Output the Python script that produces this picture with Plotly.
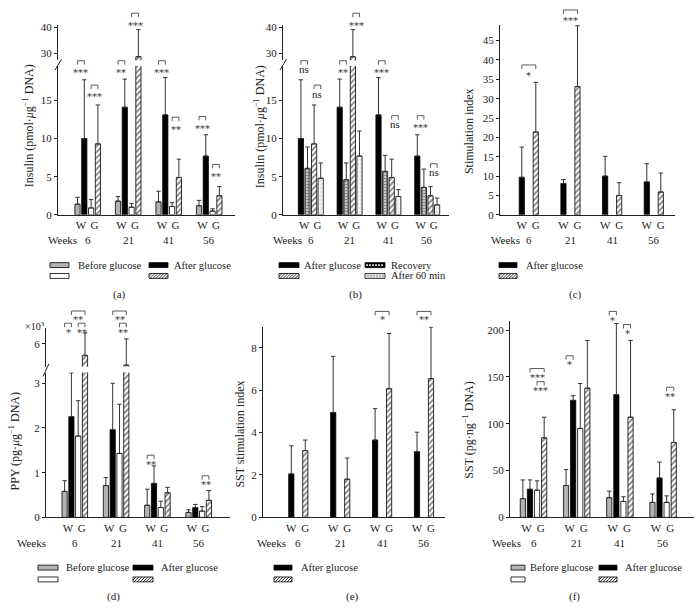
import plotly.graph_objects as go

W, H = 696, 615
SERIF = "Liberation Serif"
INK = "#222222"

# ---------------- data ----------------
weeks = ["6", "21", "41", "56"]
strains = ["W", "G"]

# (a)/(b) insulin, pmol per ug DNA
ins_before_W = [1.4, 1.8, 1.7, 1.2]
ins_before_W_err = [0.9, 0.6, 1.4, 0.7]
ins_after_W = [10.0, 14.1, 13.1, 7.7]
ins_after_W_err = [7.7, 3.7, 4.9, 2.8]
ins_before_G = [0.9, 1.0, 1.1, 0.5]
ins_before_G_err = [1.1, 0.5, 0.5, 0.3]
ins_after_G = [9.3, 28.8, 4.9, 2.5]
ins_after_G_err = [5.1, 10.4, 2.4, 1.2]
ins_recovery_W = [6.1, 4.6, 5.7, 3.6]
ins_recovery_W_err = [2.8, 2.2, 2.1, 2.4]
ins_60min_G = [4.8, 7.7, 2.4, 1.3]
ins_60min_G_err = [2.0, 3.3, 0.9, 0.9]

# (c) stimulation index
si_W = [9.7, 8.1, 10.0, 8.5]
si_W_err = [7.8, 1.0, 5.1, 4.7]
si_G = [21.4, 33.1, 5.0, 5.9]
si_G_err = [12.8, 15.7, 3.3, 4.9]

# (d) PPY (x10^3 pg per ug DNA)
ppy_before_W = [0.58, 0.71, 0.27, 0.11]
ppy_before_W_err = [0.24, 0.18, 0.36, 0.06]
ppy_after_W = [2.25, 1.96, 0.76, 0.22]
ppy_after_W_err = [0.98, 1.04, 0.39, 0.07]
ppy_before_G = [1.82, 1.43, 0.22, 0.14]
ppy_before_G_err = [0.79, 1.10, 0.14, 0.10]
ppy_after_G = [4.75, 3.7, 0.55, 0.38]
ppy_after_G_err = [2.38, 2.8, 0.12, 0.22]

# (e) SST stimulation index
sst_si_W = [2.05, 4.95, 3.65, 3.1]
sst_si_W_err = [1.33, 2.65, 1.48, 0.92]
sst_si_G = [3.15, 1.8, 6.07, 6.55]
sst_si_G_err = [0.5, 1.0, 2.61, 2.43]

# (f) SST pg per ng DNA
sst_before_W = [20, 34, 21, 16]
sst_before_W_err = [20, 17, 7, 9]
sst_after_W = [30, 125, 131, 42]
sst_after_W_err = [10, 5, 76, 17]
sst_before_G = [29, 95, 17, 16]
sst_before_G_err = [10, 48, 5, 7]
sst_after_G = [85, 138, 107, 80]
sst_after_G_err = [22, 51, 82, 35]

legend_before = "Before glucose"
legend_after = "After glucose"
legend_recovery = "Recovery"
legend_60 = "After 60 min"

# ---------------- helpers ----------------
def fx(px):
    return px / W


def fy(py):
    return 1 - py / H


STY = {
    "gray": dict(color="#b3b3b3", line=dict(color="black", width=0.8)),
    "black": dict(color="black", line=dict(color="black", width=0.8)),
    "white": dict(color="white", line=dict(color="black", width=0.8)),
    "hatch": dict(color="white", line=dict(color="black", width=0.8),
                  pattern=dict(shape="/", fgcolor="black", bgcolor="white",
                               size=4, solidity=0.45)),
    "check": dict(color="black", line=dict(color="black", width=0.8),
                  pattern=dict(shape="+", fgcolor="black", bgcolor="white",
                               size=3, solidity=0.7)),
    "grid": dict(color="white", line=dict(color="black", width=0.8),
                 pattern=dict(shape="+", fgcolor="#777777", bgcolor="white",
                              size=4, solidity=0.2)),
}


def slots4(p):
    return [-1.5 * p, -0.5 * p, 0.5 * p, 1.5 * p]


PANELS = [
    dict(xa="x", ylo="y", yup="y7", ax_px=58, right_px=235, c0=87.7, sp=40.5,
         slot_px=slots4(6.8), lab_px=6.8, bw=5.2,
         lo=dict(bottom=215, top=64, rng=[0, 19.5], ticks=[0, 5, 10, 15]),
         up=dict(bottom=58, top=22, rng=[27.5, 41.1], ticks=[30, 40]),
         series=[(ins_before_W, ins_before_W_err, "gray", 0),
                 (ins_after_W, ins_after_W_err, "black", 1),
                 (ins_before_G, ins_before_G_err, "white", 2),
                 (ins_after_G, ins_after_G_err, "hatch", 3)],
         sig=[(0, 0, 1, "lo", 20.2, 3), (0, 2, 3, "lo", 17.0, 3),
              (1, 0, 1, "lo", 20.2, 2), (1, 2, 3, "up", 45.5, 3),
              (2, 0, 1, "lo", 20.2, 3), (2, 2, 3, "lo", 12.8, 2),
              (3, 0, 1, "lo", 12.9, 3), (3, 2, 3, "lo", 6.6, 2)],
         sig_dy=9,
         ytitle="Insulin (pmol·<i>μ</i>g<sup>−1</sup> DNA)", yt_x=28, yt_y=125,
         weeks_x=62, weeks_y=241,
         legend=[("gray", 50, 69, 266, legend_before, 76),
                 ("black", 149, 168, 266, legend_after, 172),
                 ("white", 50, 69, 277, None, None),
                 ("hatch", 149, 168, 277, None, None)],
         cap="(a)", cap_x=119, cap_y=296,
         brk=((55, 68), (61.5, 57))),
    dict(xa="x2", ylo="y2", yup="y8", ax_px=283, right_px=449, c0=310.8, sp=38.8,
         slot_px=slots4(6.6), lab_px=6.6, bw=5.2,
         lo=dict(bottom=215, top=64, rng=[0, 19.5], ticks=[0, 5, 10, 15]),
         up=dict(bottom=58, top=22, rng=[27.5, 41.1], ticks=[30, 40]),
         series=[(ins_after_W, ins_after_W_err, "black", 0),
                 (ins_recovery_W, ins_recovery_W_err, "check", 1),
                 (ins_after_G, ins_after_G_err, "hatch", 2),
                 (ins_60min_G, ins_60min_G_err, "grid", 3)],
         sig=[(0, 0, 1, "lo", 20.2, "ns"), (0, 2, 3, "lo", 17.0, "ns"),
              (1, 0, 1, "lo", 20.2, 2), (1, 2, 3, "up", 45.5, 3),
              (2, 0, 1, "lo", 20.2, 3), (2, 2, 3, "lo", 13.0, "ns"),
              (3, 0, 1, "lo", 13.0, 3), (3, 2, 3, "lo", 6.7, "ns")],
         sig_dy=9,
         ytitle="Insulin (pmol·<i>μ</i>g<sup>−1</sup> DNA)", yt_x=259, yt_y=126,
         weeks_x=287, weeks_y=241,
         legend=[("black", 279, 299, 266, legend_after, 302),
                 ("check", 365, 385, 266, legend_recovery, 389),
                 ("hatch", 279, 299, 277, None, None),
                 ("grid", 365, 385, 277, legend_60, 389)],
         cap="(b)", cap_x=355, cap_y=296,
         brk=((280, 68), (286.5, 57))),
    dict(xa="x3", ylo="y3", yup=None, ax_px=500, right_px=675, c0=528.8, sp=41.67,
         slot_px=[-7, 7], lab_px=7, bw=5.2,
         lo=dict(bottom=215, top=22, rng=[0, 49.1], ticks=list(range(0, 50, 5))),
         up=None,
         series=[(si_W, si_W_err, "black", 0), (si_G, si_G_err, "hatch", 1)],
         sig=[(0, 0, 1, "lo", 38.7, 1), (1, 0, 1, "lo", 52.9, 3)],
         sig_dy=8,
         ytitle="Stimulation index", yt_x=469, yt_y=130,
         weeks_x=505, weeks_y=241,
         legend=[("black", 499, 517, 266, legend_after, 524),
                 ("hatch", 499, 517, 277, None, None)],
         cap="(c)", cap_x=575, cap_y=296, brk=None),
    dict(xa="x4", ylo="y4", yup="y9", ax_px=46, right_px=230, c0=74.8, sp=41.3,
         slot_px=slots4(6.8), lab_px=6.8, bw=5.2,
         lo=dict(bottom=522, top=375, rng=[0, 3.24], ticks=[0, 1, 2, 3]),
         up=dict(bottom=369, top=330, rng=[3.55, 7.65], ticks=[6]),
         series=[(ppy_before_W, ppy_before_W_err, "gray", 0),
                 (ppy_after_W, ppy_after_W_err, "black", 1),
                 (ppy_before_G, ppy_before_G_err, "white", 2),
                 (ppy_after_G, ppy_after_G_err, "hatch", 3)],
         sig=[(0, 0, 1, "up", 8.18, 1), (0, 1, 3, "up", 9.48, 2),
              (0, 2, 3, "up", 8.18, 2), (1, 1, 3, "up", 9.48, 2),
              (1, 2, 3, "up", 8.18, 2), (2, 0, 1, "lo", 1.39, 2),
              (3, 2, 3, "lo", 0.93, 2)],
         sig_dy=6,
         ytitle="PPY (pg·<i>μ</i>g<sup>−1</sup> DNA)", yt_x=14, yt_y=445,
         weeks_x=31, weeks_y=548,
         legend=[("gray", 38, 58, 573, legend_before, 64),
                 ("black", 133, 153, 573, legend_after, 159),
                 ("white", 38, 58, 585, None, None),
                 ("hatch", 133, 153, 585, None, None)],
         cap="(d)", cap_x=113, cap_y=602,
         brk=((43, 379), (49, 366))),
    dict(xa="x5", ylo="y5", yup=None, ax_px=263, right_px=445, c0=298.3, sp=41.9,
         slot_px=[-7, 7], lab_px=7, bw=5.2,
         lo=dict(bottom=522, top=328.5, rng=[0, 9.0], ticks=[0, 2, 4, 6, 8]),
         up=None,
         series=[(sst_si_W, sst_si_W_err, "black", 0),
                 (sst_si_G, sst_si_G_err, "hatch", 1)],
         sig=[(2, 0, 1, "lo", 9.72, 1), (3, 0, 1, "lo", 9.72, 2)],
         sig_dy=5,
         ytitle="SST stimulation index", yt_x=240, yt_y=438,
         weeks_x=271, weeks_y=548,
         legend=[("black", 274, 292, 573, legend_after, 299),
                 ("hatch", 274, 292, 585, None, None)],
         cap="(e)", cap_x=352, cap_y=602, brk=None),
    dict(xa="x6", ylo="y6", yup=None, ax_px=510, right_px=694, c0=533.5, sp=43.2,
         slot_px=slots4(7.1), lab_px=7.1, bw=5.2,
         lo=dict(bottom=522, top=322.5, rng=[0, 210], ticks=[0, 50, 100, 150, 200]),
         up=None,
         series=[(sst_before_W, sst_before_W_err, "gray", 0),
                 (sst_after_W, sst_after_W_err, "black", 1),
                 (sst_before_G, sst_before_G_err, "white", 2),
                 (sst_after_G, sst_after_G_err, "hatch", 3)],
         sig=[(0, 1, 3, "lo", 159, 3), (0, 2, 3, "lo", 145, 3),
              (1, 0, 1, "lo", 172.6, 1), (2, 0, 1, "lo", 220, 1),
              (2, 2, 3, "lo", 206, 1), (3, 2, 3, "lo", 139, 2)],
         sig_dy=6,
         ytitle="SST (pg·ng<sup>−1</sup> DNA)", yt_x=469, yt_y=434,
         weeks_x=506, weeks_y=548,
         legend=[("gray", 511, 525, 573, legend_before, 528),
                 ("black", 599, 617, 573, legend_after, 623),
                 ("white", 511, 525, 585, None, None),
                 ("hatch", 599, 617, 585, None, None)],
         cap="(f)", cap_x=574, cap_y=602, brk=None),
]


def akey(name):
    letter = name[0]
    num = name[1:]
    return ("xaxis" if letter == "x" else "yaxis") + num


fig = go.Figure()
shapes = []
annotations = []
layout_axes = {}

TICKFONT = dict(family=SERIF, size=11, color=INK)
LEGFONT = dict(family=SERIF, size=10.5, color=INK)
STARFONT = dict(family="DejaVu Serif", size=10, color="#333333")


def y_to_px(ax, v):
    ppu = (ax["bottom"] - ax["top"]) / (ax["rng"][1] - ax["rng"][0])
    return ax["bottom"] - (v - ax["rng"][0]) * ppu


def swatch(style, x0, x1, yc, h=5.0):
    ytop, ybot = yc - h / 2, yc + h / 2
    fill = {"gray": "#b3b3b3", "black": "black", "white": "white",
            "hatch": "white", "check": "black", "grid": "white"}[style]
    shapes.append(dict(type="rect", xref="paper", yref="paper",
                       x0=fx(x0), x1=fx(x1), y0=fy(ybot), y1=fy(ytop),
                       fillcolor=fill, line=dict(color="black", width=0.8)))
    if style == "hatch":
        segs = []
        x = x0 - h
        while x < x1:
            ax_, ay, bx, by = x, ybot, x + h, ytop
            if ax_ < x0:
                ay = ybot - (x0 - ax_)
                ax_ = x0
            if bx > x1:
                by = ytop + (bx - x1)
                bx = x1
            if bx > ax_:
                segs.append(f"M{fx(ax_):.5f},{fy(ay):.5f}L{fx(bx):.5f},{fy(by):.5f}")
            x += 3
        shapes.append(dict(type="path", xref="paper", yref="paper", path="".join(segs),
                           line=dict(color="black", width=0.8)))
    elif style == "check":
        x = x0 + 2
        while x < x1 - 1:
            shapes.append(dict(type="rect", xref="paper", yref="paper",
                               x0=fx(x - 0.8), x1=fx(x + 0.8), y0=fy(yc + 0.8), y1=fy(yc - 0.8),
                               fillcolor="white", line=dict(width=0)))
            x += 3
    elif style == "grid":
        segs = []
        x = x0 + 3
        while x < x1 - 0.5:
            segs.append(f"M{fx(x):.5f},{fy(ybot):.5f}L{fx(x):.5f},{fy(ytop):.5f}")
            x += 3
        segs.append(f"M{fx(x0):.5f},{fy(yc):.5f}L{fx(x1):.5f},{fy(yc):.5f}")
        shapes.append(dict(type="path", xref="paper", yref="paper", path="".join(segs),
                           line=dict(color="#777777", width=0.6)))


for P in PANELS:
    sp = P["sp"]
    c0 = P["c0"]
    left = (P["ax_px"] - c0) / sp
    right = 3 + (P["right_px"] - c0 - 3 * sp) / sp
    tickvals = []
    for g in range(len(weeks)):
        tickvals += [g - P["lab_px"] / sp, g + P["lab_px"] / sp]
    layout_axes[akey(P["xa"])] = dict(
        domain=[fx(P["ax_px"]), fx(P["right_px"])], range=[left, right],
        anchor=P["ylo"], showline=True, linecolor=INK, linewidth=1,
        ticks="", tickvals=tickvals, ticktext=strains * len(weeks),
        tickfont=TICKFONT, showgrid=False, zeroline=False, fixedrange=True)
    lo = P["lo"]
    layout_axes[akey(P["ylo"])] = dict(
        domain=[fy(lo["bottom"]), fy(lo["top"])], range=lo["rng"], anchor=P["xa"],
        showline=True, linecolor=INK, linewidth=1, ticks="outside", ticklen=3,
        tickcolor=INK, tickvals=lo["ticks"], tickfont=TICKFONT,
        showgrid=False, zeroline=False, fixedrange=True)
    yaxes = [P["ylo"]]
    if P["up"]:
        up = P["up"]
        layout_axes[akey(P["yup"])] = dict(
            domain=[fy(up["bottom"]), fy(up["top"])], range=up["rng"], anchor=P["xa"],
            showline=True, linecolor=INK, linewidth=1, ticks="outside", ticklen=3,
            tickcolor=INK, tickvals=up["ticks"], tickfont=TICKFONT,
            showgrid=False, zeroline=False, fixedrange=True)
        yaxes.append(P["yup"])

    for vals, errs, style, slot in P["series"]:
        xs = [g + P["slot_px"][slot] / sp for g in range(len(vals))]
        for ya in yaxes:
            fig.add_trace(go.Bar(
                x=xs, y=vals, width=[P["bw"] / sp] * len(vals),
                xaxis=P["xa"], yaxis=ya, marker=STY[style],
                error_y=dict(type="data", array=errs, arrayminus=[0] * len(errs),
                             symmetric=False, color="#333333", thickness=1, width=2.2),
                showlegend=False, hoverinfo="skip"))

    # significance brackets
    for g, sa, sb, which, val, lab in P["sig"]:
        ax = P["lo"] if which == "lo" else P["up"]
        ypx = y_to_px(ax, val)
        cx = c0 + g * sp
        xa_ = cx + P["slot_px"][sa]
        xb_ = cx + P["slot_px"][sb]
        t = 4
        path = (f"M{fx(xa_):.5f},{fy(ypx + t):.5f}L{fx(xa_):.5f},{fy(ypx):.5f}"
                f"L{fx(xb_):.5f},{fy(ypx):.5f}L{fx(xb_):.5f},{fy(ypx + t):.5f}")
        shapes.append(dict(type="path", xref="paper", yref="paper", path=path,
                           line=dict(color="#333333", width=0.8)))
        if lab == "ns":
            text = "ns"
            ty = ypx + P["sig_dy"] - 0.5
            font = dict(family=SERIF, size=11, color="#222222")
        else:
            text = "*" * lab
            ty = ypx + P["sig_dy"] + 3
            font = STARFONT
        annotations.append(dict(x=fx((xa_ + xb_) / 2), y=fy(ty), xref="paper", yref="paper",
                                text=text, showarrow=False, xanchor="center", yanchor="middle",
                                font=font))

    # axis break marks
    if P["brk"]:
        (x1, y1), (x2, y2) = P["brk"]
        shapes.append(dict(type="line", xref="paper", yref="paper",
                           x0=fx(x1), y0=fy(y1), x1=fx(x2), y1=fy(y2),
                           line=dict(color=INK, width=1)))

    # y title
    annotations.append(dict(x=fx(P["yt_x"]), y=fy(P["yt_y"]), xref="paper", yref="paper",
                            text=P["ytitle"], textangle=-90, showarrow=False,
                            xanchor="center", yanchor="middle",
                            font=dict(family=SERIF, size=12, color=INK)))
    # weeks row
    annotations.append(dict(x=fx(P["weeks_x"]), y=fy(P["weeks_y"]), xref="paper", yref="paper",
                            text="Weeks", showarrow=False, xanchor="center", yanchor="middle",
                            font=dict(family=SERIF, size=11, color=INK)))
    for g, wk in enumerate(weeks):
        annotations.append(dict(x=g, y=fy(P["weeks_y"]), xref=P["xa"], yref="paper",
                                text=wk, showarrow=False, xanchor="center", yanchor="middle",
                                font=dict(family=SERIF, size=11, color=INK)))
    # legend
    for style, x0, x1, yc, txt, tx in P["legend"]:
        swatch(style, x0, x1, yc)
        if txt:
            annotations.append(dict(x=fx(tx), y=fy(yc), xref="paper", yref="paper",
                                    text=txt, showarrow=False, xanchor="left", yanchor="middle",
                                    font=LEGFONT))
    # caption
    annotations.append(dict(x=fx(P["cap_x"]), y=fy(P["cap_y"]), xref="paper", yref="paper",
                            text=P["cap"], showarrow=False, xanchor="center", yanchor="middle",
                            font=dict(family=SERIF, size=11, color=INK)))

# x10^3 label for PPY
annotations.append(dict(x=fx(35), y=fy(328), xref="paper", yref="paper",
                        text="×10<sup>3</sup>", showarrow=False, xanchor="center", yanchor="middle",
                        font=dict(family=SERIF, size=10, color=INK)))

fig.update_layout(
    width=W, height=H, margin=dict(l=0, r=0, t=0, b=0),
    paper_bgcolor="white", plot_bgcolor="rgba(0,0,0,0)",
    barmode="overlay", showlegend=False,
    shapes=shapes, annotations=annotations,
    **layout_axes)

fig.write_html("out.html", config={"displayModeBar": False},
               post_script="document.body.style.margin='0px';document.body.style.overflow='hidden';")
